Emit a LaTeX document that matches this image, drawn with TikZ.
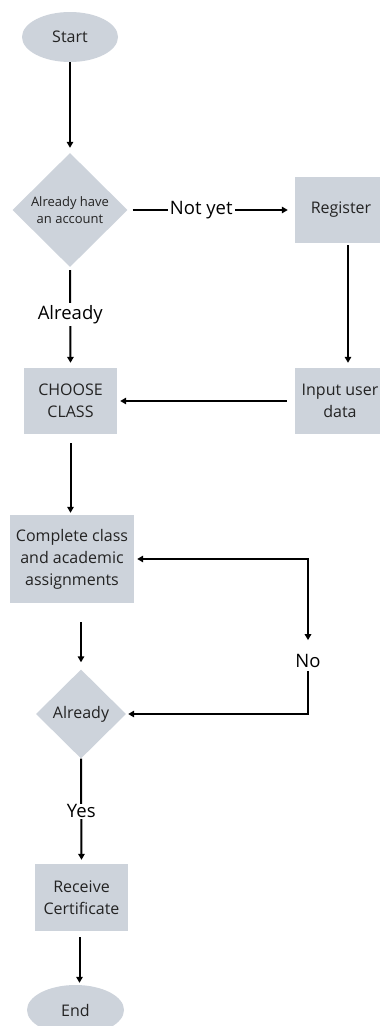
\documentclass[tikz,border=0pt]{standalone}
\usepackage{fontspec}
\setmainfont{Open Sans}
\usetikzlibrary{arrows.meta, shapes.geometric}
\definecolor{boxgray}{RGB}{205,211,219}
\definecolor{txtgray}{RGB}{35,35,35}

\begin{document}
\begin{tikzpicture}[x=1pt, y=-1pt]
        % Define node styles
        \tikzstyle{terminal} = [ellipse, fill=boxgray, text=txtgray, minimum width=96pt, minimum height=50pt, inner sep=0pt, font=\fontsize{16}{19}\selectfont]
        \tikzstyle{process} = [rectangle, fill=boxgray, text=txtgray, inner sep=0pt, align=center, font=\fontsize{16}{22}\selectfont]
        \tikzstyle{decision} = [diamond, fill=boxgray, text=txtgray, inner sep=0pt, align=center]
        \tikzstyle{flow} = [-{Triangle[length=6pt, width=6.5pt]}, line width=2pt]
        \tikzstyle{answer} = [fill=white, inner sep=2pt, font=\fontsize{18.5}{20}\selectfont]

        \useasboundingbox (0,0) rectangle (380,1026);

        % Draw the nodes
        \node[terminal] (St) at (70,37) {Start};
        \node[decision, minimum width=115pt, minimum height=114pt, font=\fontsize{13}{16.5}\selectfont] (Acc) at (70,210) {Already have\\an account};
        \node[process, minimum width=92pt, minimum height=66pt] (Reg) at (341,210) {Register};
        \node[process, minimum width=90pt, minimum height=66pt] (Inp) at (340,401) {Input user\\data};
        \node[process, minimum width=93pt, minimum height=66pt] (Cls) at (70.5,401) {CHOOSE\\CLASS};
        \node[process, minimum width=124pt, minimum height=88pt] (Cmp) at (72,559) {Complete class\\and academic\\assignments};
        \node[decision, minimum width=90pt, minimum height=89pt, font=\fontsize{16}{19}\selectfont] (Chk) at (81,714) {Already};
        \node[process, minimum width=93pt, minimum height=67pt] (Cert) at (81.5,897.5) {Receive\\Certificate};
        \node[terminal, minimum width=97pt] (En) at (75.5,1010) {End};
        \node[answer] (No) at (308,661) {No};

        \draw[flow, shorten >=5pt] (St) -- (Acc);
        \draw[flow, shorten <=5pt, shorten >=7pt] (Acc.east) --
            node[answer, pos=0.44] {Not yet} (Reg.west);
        \draw[flow, shorten <=2pt, shorten >=5pt] ([xshift=7pt]Reg.south) -- ([xshift=7pt]Reg.south |- Inp.north);
        \draw[flow, shorten <=8pt, shorten >=3pt] (Inp.west) -- (Cls.east);
        \draw[flow, shorten <=3pt, shorten >=5pt] (Acc.south) --
            node[answer, pos=0.47] {Already} (Cls.north);
        \draw[flow, shorten <=9pt, shorten >=2pt] (Cls.south) -- (Cls.south |- Cmp.north);
        \draw[flow, shorten <=19pt, shorten >=7pt] (Chk.north |- Cmp.south) -- (Chk.north);
        \draw[flow, {Triangle[length=6pt, width=6.5pt]}-{Triangle[length=6pt, width=6.5pt]}, shorten <=3pt, shorten >=12pt] (Cmp.east) -| (No.north);
        \draw[flow, shorten <=1pt, shorten >=2pt] (No.south) |- (Chk.east);
        \draw[flow, shorten >=4pt] (Chk.south) --
            node[answer, inner sep=1pt] {Yes} (Cert.north);
        \draw[flow, shorten <=6pt, shorten >=2pt] ([xshift=-2pt]Cert.south) -- ([xshift=-2pt]Cert.south |- En.north);
    \end{tikzpicture}
\end{document}
